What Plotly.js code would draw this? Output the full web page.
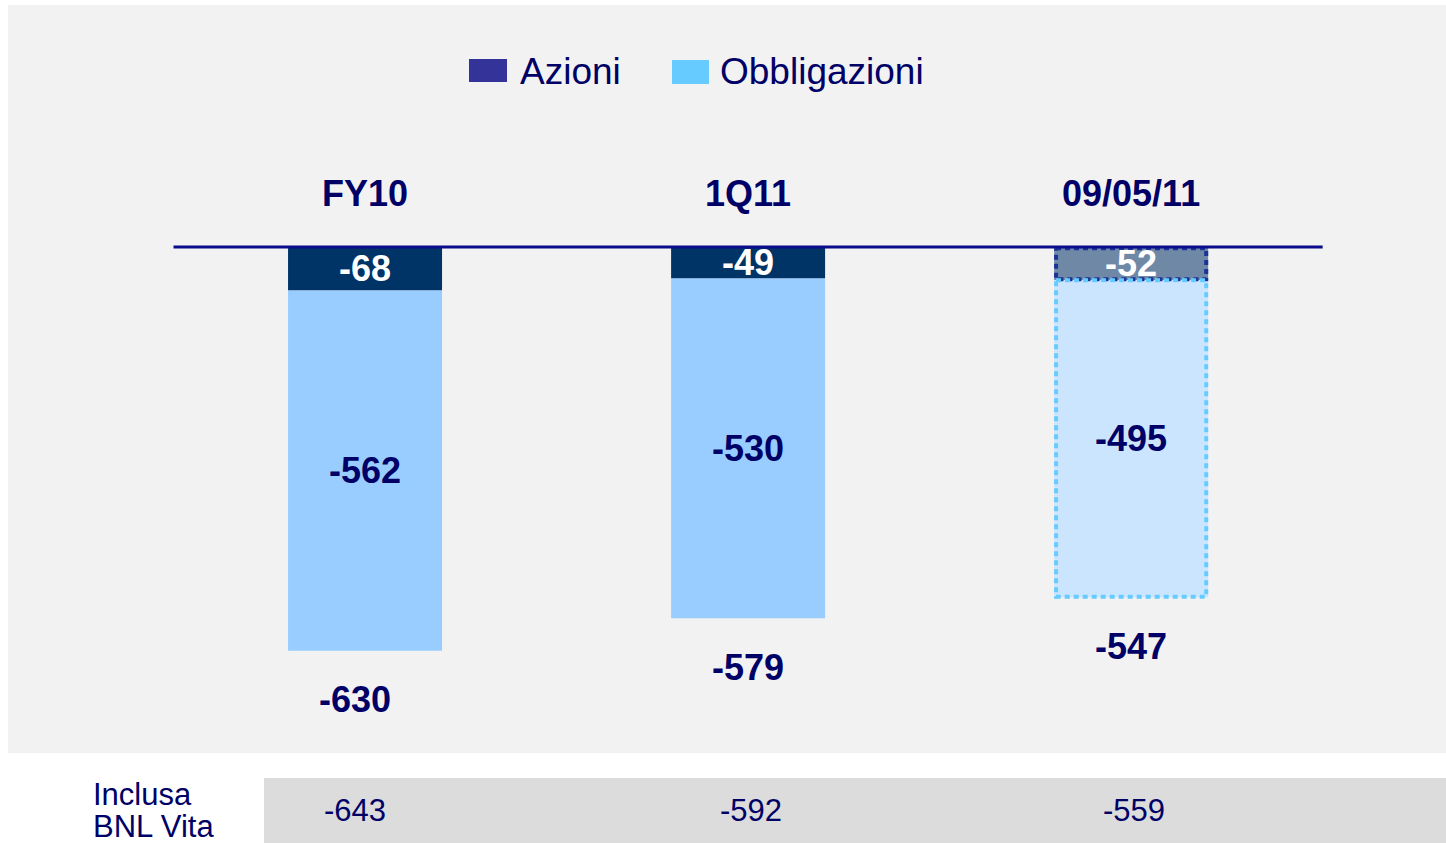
<!DOCTYPE html>
<html>
<head>
<meta charset="utf-8">
<script src="https://cdn.plot.ly/plotly-3.0.1.min.js"></script>
<style>html,body{margin:0;padding:0;background:#fff;}#chart{width:1446px;height:843px;}</style>
</head>
<body>
<div id="chart"></div>
<script>
// ---- data ----
const categories = ["FY10", "1Q11", "09/05/11"];
const azioni = [-68, -49, -52];
const obbligazioni = [-562, -530, -495];
const inclusaBNL = [-643, -592, -559];
const seriesNames = ["Azioni", "Obbligazioni"];
const tableLabel = ["Inclusa", "BNL Vita"];

// ---- layout helpers ----
const W = 1446, H = 843;
const NAVY = "#000066";
const FONT = "Liberation Sans, Arial, sans-serif";
const px = v => v / W;
const py = v => 1 - v / H;
const xs = categories.map((c, i) => i);
const totals = azioni.map((a, i) => a + obbligazioni[i]);
const BW = 0.402;
const lastIdx = categories.length - 1;

const traces = [
  {
    type: "bar", name: seriesNames[0], x: xs, y: azioni, width: BW,
    marker: { color: xs.map(i => i === lastIdx ? "#6f88a6" : "#003366"), line: { width: 0 } },
    showlegend: false, hoverinfo: "y"
  },
  {
    type: "bar", name: seriesNames[1], x: xs, y: obbligazioni, width: BW,
    marker: { color: xs.map(i => i === lastIdx ? "#cce5ff" : "#99ccff"), line: { width: 0 } },
    showlegend: false, hoverinfo: "y"
  }
];

// dotted outlines for the last (provisional) bar
function outline(i, y0, y1, color) {
  const inset = 0.005;
  const xl = i - BW / 2 + inset, xr = i + BW / 2 - inset;
  return {
    type: "scatter", mode: "lines", x: [xl, xr, xr, xl, xl], y: [y0, y0, y1, y1, y0],
    line: { color: color, width: 4, dash: "5px,4px" }, showlegend: false, hoverinfo: "skip"
  };
}
traces.push(outline(lastIdx, -2, azioni[lastIdx] + 1.5, "#1a3399"));
traces.push(outline(lastIdx, azioni[lastIdx], totals[lastIdx] + 1.5, "#66ccff"));

const shapes = [
  { type: "rect", xref: "paper", yref: "paper", x0: px(8), x1: px(1446), y0: py(5), y1: py(753),
    fillcolor: "#f2f2f2", line: { width: 0 }, layer: "below" },
  { type: "rect", xref: "paper", yref: "paper", x0: px(264), x1: px(1446), y0: py(778), y1: py(843),
    fillcolor: "#dcdcdc", line: { width: 0 }, layer: "below" },
  { type: "line", xref: "x", yref: "y", x0: -0.5, x1: categories.length - 0.5, y0: 0, y1: 0,
    line: { color: "#0a0a8c", width: 3 }, layer: "above" },
  // legend swatches
  { type: "rect", xref: "paper", yref: "paper", x0: px(469), x1: px(507), y0: py(59), y1: py(82),
    fillcolor: "#333399", line: { width: 0 } },
  { type: "rect", xref: "paper", yref: "paper", x0: px(672), x1: px(709), y0: py(60), y1: py(84),
    fillcolor: "#66ccff", line: { width: 0 } }
];

const annotations = [];
// legend text
annotations.push({ xref: "paper", yref: "paper", x: px(518), y: py(72), xanchor: "left", yanchor: "middle",
  text: seriesNames[0], showarrow: false, font: { family: FONT, size: 37, color: NAVY } });
annotations.push({ xref: "paper", yref: "paper", x: px(718), y: py(72), xanchor: "left", yanchor: "middle",
  text: seriesNames[1], showarrow: false, font: { family: FONT, size: 37, color: NAVY } });

categories.forEach((c, i) => {
  // category header
  annotations.push({ xref: "x", yref: "paper", x: i, y: py(193), yanchor: "middle", text: c, showarrow: false,
    font: { family: FONT, size: 36, color: NAVY, weight: "bold" } });
  // azioni label
  annotations.push({ xref: "x", yref: "y", x: i, y: azioni[i] / 2, yanchor: "middle", text: String(azioni[i]),
    showarrow: false, font: { family: FONT, size: 36, color: "#ffffff", weight: "bold" } });
  // obbligazioni label
  annotations.push({ xref: "x", yref: "y", x: i, y: azioni[i] + obbligazioni[i] / 2, yanchor: "middle",
    text: String(obbligazioni[i]), showarrow: false, font: { family: FONT, size: 36, color: NAVY, weight: "bold" } });
  // total
  annotations.push({ xref: "x", yref: "y", x: i, y: totals[i], yanchor: "middle", yshift: -49,
    xshift: i === 0 ? -10 : 0,
    text: String(totals[i]), showarrow: false, font: { family: FONT, size: 36, color: NAVY, weight: "bold" } });
  // table value
  annotations.push({ xref: "x", yref: "paper", x: i, y: py(810), yanchor: "middle", xshift: i === 0 ? -10 : 3,
    text: String(inclusaBNL[i]), showarrow: false, font: { family: FONT, size: 31, color: NAVY } });
});
annotations.push({ xref: "paper", yref: "paper", x: px(91), y: py(794), xanchor: "left", yanchor: "middle",
  text: tableLabel[0], showarrow: false, font: { family: FONT, size: 31, color: NAVY } });
annotations.push({ xref: "paper", yref: "paper", x: px(91), y: py(826), xanchor: "left", yanchor: "middle",
  text: tableLabel[1], showarrow: false, font: { family: FONT, size: 31, color: NAVY } });

const layout = {
  width: W, height: H,
  margin: { l: 0, r: 0, t: 0, b: 0, pad: 0 },
  paper_bgcolor: "#ffffff", plot_bgcolor: "rgba(0,0,0,0)",
  barmode: "relative",
  showlegend: false,
  xaxis: { range: [-0.953, 2.822], visible: false, fixedrange: true },
  yaxis: { range: [-929.8, 385.3], visible: false, fixedrange: true },
  shapes: shapes,
  annotations: annotations,
  font: { family: FONT }
};

Plotly.newPlot("chart", traces, layout, { displayModeBar: false, staticPlot: true });
</script>
</body>
</html>
